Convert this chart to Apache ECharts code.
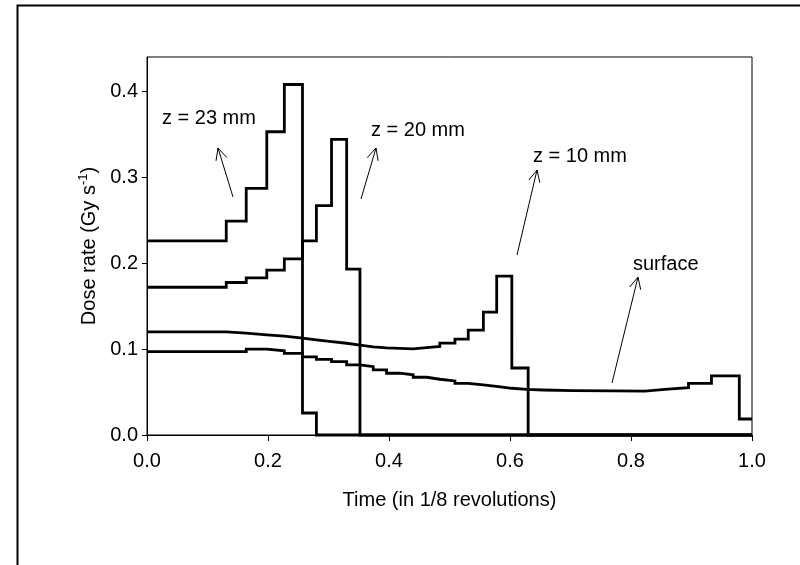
<!DOCTYPE html>
<html>
<head>
<meta charset="utf-8">
<script src="https://cdn.jsdelivr.net/npm/echarts@6/dist/echarts.min.js"></script>
<style>
html,body{margin:0;padding:0;background:#fff;}
#chart{width:800px;height:565px;}
</style>
</head>
<body>
<div id="chart"></div>
<script>
// ---- data (step series: value holds from x[i] to x[i+1]) ----
const z23X = [0, 0.131, 0.164, 0.198, 0.227, 0.257, 0.280, 1.0];
const z23Y = [0.226, 0.249, 0.287, 0.353, 0.408, 0.0256, 0, 0];

const z20X = [0, 0.131, 0.164, 0.198, 0.227, 0.257, 0.280, 0.305, 0.330, 0.352, 1.0];
const z20Y = [0.172, 0.1775, 0.183, 0.192, 0.205, 0.226, 0.267, 0.344, 0.193, 0, 0];

const z10X = [0, 0.131, 0.164, 0.198, 0.227, 0.257, 0.280, 0.305, 0.330, 0.352, 0.374, 0.396, 0.440, 0.462, 0.484, 0.509, 0.531, 0.556, 0.578, 0.603, 0.630, 1.0];
const z10Y = [0.120, 0.1185, 0.1166, 0.1150, 0.1127, 0.1107, 0.1088, 0.1068, 0.1045, 0.1025, 0.1015, 0.1002, 0.1018, 0.1030, 0.1070, 0.1115, 0.122, 0.143, 0.185, 0.078, 0, 0];

const surfX = [0, 0.164, 0.198, 0.227, 0.257, 0.280, 0.305, 0.330, 0.352, 0.374, 0.396, 0.418, 0.440, 0.462, 0.484, 0.509, 0.531, 0.556, 0.581, 0.603, 0.628, 0.655, 0.704, 0.770, 0.823, 0.856, 0.895, 0.933, 0.979, 1.0];
const surfY = [0.097, 0.100, 0.098, 0.095, 0.091, 0.088, 0.0855, 0.0816, 0.0796, 0.0758, 0.0719, 0.0700, 0.0672, 0.0649, 0.0629, 0.0602, 0.0583, 0.0563, 0.0544, 0.0532, 0.0524, 0.0516, 0.0513, 0.0510, 0.0532, 0.0551, 0.0602, 0.0688, 0.0186, 0.0186];

const xTickValues = [0, 0.2, 0.4, 0.6, 0.8, 1.0];
const yTickValues = [0, 0.1, 0.2, 0.3, 0.4];

const labelTexts = ['z = 23 mm', 'z = 20 mm', 'z = 10 mm', 'surface'];

// ---- layout (pixel positions of annotations) ----
const FONT = '"Liberation Sans", Arial, sans-serif';
const annoLayout = [
  {tx: 162, ty: 119, tail: [233, 197], head: [218, 148]},
  {tx: 371, ty: 131, tail: [361, 199], head: [376, 148]},
  {tx: 533, ty: 157, tail: [517, 255], head: [537, 170]},
  {tx: 633, ty: 265, tail: [612, 383], head: [638, 277]}
];

function zip(xs, ys) { return xs.map((x, i) => [x, ys[i]]); }

const graphics = [];
// outer frame
graphics.push({
  type: 'rect', shape: {x: 17.5, y: 5.5, width: 900, height: 700},
  style: {fill: 'none', stroke: '#000', lineWidth: 2}, silent: true, z: 0
});
annoLayout.forEach((a, i) => {
  graphics.push({
    type: 'text', left: a.tx, top: a.ty - 11,
    style: {text: labelTexts[i], font: '20px ' + FONT, fill: '#000'}
  });
  graphics.push({
    type: 'line', shape: {x1: a.tail[0], y1: a.tail[1], x2: a.head[0], y2: a.head[1]},
    style: {stroke: '#000', lineWidth: 1}
  });
  const ang = Math.atan2(a.tail[1] - a.head[1], a.tail[0] - a.head[0]);
  const L = 13, th = 0.45;
  graphics.push({
    type: 'polyline',
    shape: {points: [
      [a.head[0] + L * Math.cos(ang + th), a.head[1] + L * Math.sin(ang + th)],
      [a.head[0], a.head[1]],
      [a.head[0] + L * Math.cos(ang - th), a.head[1] + L * Math.sin(ang - th)]
    ]},
    style: {stroke: '#000', lineWidth: 1, fill: 'none'}
  });
});

function stepSeries(name, xs, ys) {
  return {
    name, type: 'line', step: 'end', data: zip(xs, ys),
    symbol: 'none', clip: false,
    lineStyle: {color: '#000', width: 2.8, join: 'miter', cap: 'butt'},
    animation: false
  };
}

const chart = echarts.init(document.getElementById('chart'), null, {renderer: 'canvas'});
chart.setOption({
  backgroundColor: '#fff',
  animation: false,
  grid: {left: 147, right: 48, top: 57, bottom: 130, show: true, borderColor: '#000', borderWidth: 1, backgroundColor: 'transparent'},
  xAxis: {
    type: 'value', min: 0, max: 1, interval: 0.2,
    name: 'Time (in 1/8 revolutions)', nameLocation: 'middle', nameGap: 55,
    nameTextStyle: {color: '#000', fontSize: 20, fontFamily: FONT},
    axisLine: {show: true, lineStyle: {color: '#000', width: 1}},
    axisTick: {show: true, inside: false, length: 6, lineStyle: {color: '#000'}, customValues: xTickValues},
    axisLabel: {color: '#000', fontSize: 20, fontFamily: FONT, margin: 16, customValues: xTickValues,
      formatter: v => v.toFixed(1)},
    splitLine: {show: false}
  },
  yAxis: {
    type: 'value', min: 0, max: 0.44, interval: 0.1,
    name: '{a|Dose rate (Gy s}{s|-1}{a|)}', nameLocation: 'middle', nameGap: 37, nameRotate: 90,
    nameTextStyle: {color: '#000', fontFamily: FONT,
      rich: {
        a: {fontSize: 20, fontFamily: FONT, color: '#000', lineHeight: 24},
        s: {fontSize: 13, fontFamily: FONT, color: '#000', verticalAlign: 'top', lineHeight: 24}
      }},
    axisLine: {show: true, lineStyle: {color: '#000', width: 1}},
    axisTick: {show: true, inside: false, length: 5, lineStyle: {color: '#000'}, customValues: yTickValues},
    axisLabel: {color: '#000', fontSize: 20, fontFamily: FONT, margin: 9, customValues: yTickValues,
      formatter: v => v.toFixed(1)},
    splitLine: {show: false}
  },
  series: [
    stepSeries('z = 23 mm', z23X, z23Y),
    stepSeries('z = 20 mm', z20X, z20Y),
    stepSeries('z = 10 mm', z10X, z10Y),
    stepSeries('surface', surfX, surfY)
  ],
  graphic: graphics
});
</script>
</body>
</html>
